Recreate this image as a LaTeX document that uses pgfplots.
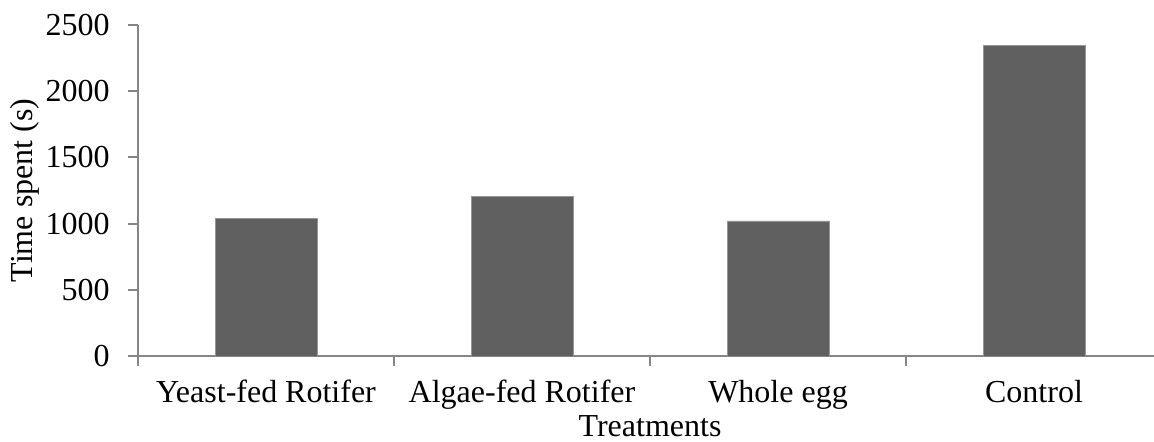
\documentclass[border=0pt]{standalone}
\usepackage{fontspec}
\setmainfont{Liberation Serif}
\usepackage{pgfplots}
\pgfplotsset{compat=1.18}
\definecolor{barfill}{RGB}{96,96,96}
\definecolor{baredge}{RGB}{150,150,150}
\definecolor{axisgray}{RGB}{134,134,134}
\newcommand{\chartfont}{\fontsize{16}{19}\selectfont}
\begin{document}
\begin{tikzpicture}
\begin{axis}[
 at={(69pt,43pt)}, anchor=south west,
 scale only axis, width=512pt, height=165.5pt,
 xmin=-0.5, xmax=3.5, ymin=0, ymax=2500,
 axis lines*=left,
 axis line style={draw=axisgray, line width=1pt},
 ytick={0,500,1000,1500,2000,2500},
 xtick={-0.5,0.5,1.5,2.5,3.5},
 x tick label as interval,
 xticklabels={Yeast-fed Rotifer,Algae-fed Rotifer,Whole egg,Control},
 tick align=outside, major tick length=5pt,
 tick style={draw=axisgray, line width=1pt},
 /pgf/number format/assume math mode=true,
 /pgf/number format/1000 sep={},
 scaled y ticks=false,
 yticklabel style={anchor=east, inner sep=0pt, xshift=-9pt, font=\chartfont},
 xticklabel style={anchor=base, inner sep=0pt, yshift=-18.5pt, font=\chartfont},
 xlabel={Treatments},
 ylabel={Time spent (s)},
 every axis x label/.style={at={(axis description cs:0.5,0)}, anchor=base, inner sep=0pt, yshift=-40.5pt, font=\chartfont},
 every axis y label/.style={at={(axis description cs:0,0.5)}, xshift=-52.5pt, rotate=90, anchor=base, inner sep=0pt, font=\chartfont},
]
\addplot[ybar, bar width=51pt, fill=barfill, draw=baredge, line width=0.4pt]
 coordinates {(0,1040) (1,1203) (2,1020) (3,2345)};
\end{axis}
\pgfresetboundingbox
\path[use as bounding box] (0,0) rectangle (577pt,221pt);
\end{tikzpicture}
\end{document}
